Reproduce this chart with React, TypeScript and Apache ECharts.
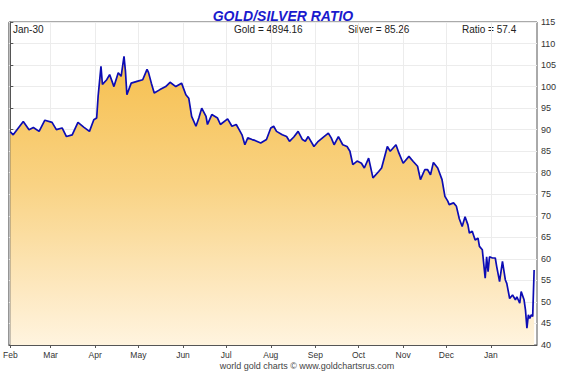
import React, { useEffect, useRef } from "react";
import * as echarts from "echarts";

// Days counted from Feb 1
const days = [
  0, 2, 9, 13, 16, 20, 24, 29, 32, 36, 39, 43, 47, 51, 55, 58, 60, 61, 63, 64,
  67, 69, 72, 75, 77, 79, 80, 81, 84, 88, 92, 95, 96, 98, 100, 104, 108, 111, 115, 119,
  122, 124, 126, 129, 131, 133, 136, 137, 140, 144, 146, 151, 154, 157, 159, 161, 163, 165, 168, 170,
  174, 176, 178, 181, 183, 185, 189, 192, 194, 197, 200, 203, 205, 207, 211, 214, 218, 221, 223, 225,
  228, 231, 234, 236, 238, 241, 244, 246, 249, 252, 256, 258, 262, 264, 268, 270, 273, 277, 280, 283,
  285, 288, 290, 292, 294, 297, 300, 302, 304, 305, 308, 310, 312, 314, 316, 318, 319, 321, 323, 325,
  326, 328, 330, 331, 332, 333, 335, 337, 338, 340, 342, 344, 345, 347, 349, 351, 352, 354, 355, 357,
  358, 359, 360, 361, 362, 363, 364,
];
const ratios = [
  89.5, 88.8, 91.9, 90.0, 90.5, 89.6, 92.2, 91.7, 90.0, 90.4, 88.4, 88.8, 91.7, 90.6, 89.6, 92.3, 92.7, 97.7, 104.7, 100.5,
  101.6, 102.8, 100.0, 103.2, 102.4, 107.0, 103.6, 98.1, 100.8, 101.2, 101.6, 104.0, 103.3, 100.8, 98.5, 99.3, 100.0, 101.0, 100.0, 100.8,
  98.1, 97.3, 93.1, 90.8, 92.7, 95.0, 93.1, 91.2, 93.5, 92.7, 91.2, 92.5, 90.8, 91.2, 90.0, 88.8, 86.5, 88.1, 87.7, 87.5,
  86.9, 87.3, 87.7, 90.4, 90.8, 89.6, 88.8, 88.4, 87.3, 88.3, 89.6, 87.7, 87.3, 88.4, 86.1, 87.3, 88.4, 89.2, 88.1, 86.5,
  88.4, 86.5, 86.1, 85.0, 81.9, 82.7, 82.2, 81.1, 83.4, 78.8, 80.3, 81.1, 86.1, 85.0, 86.5, 84.6, 82.2, 83.8, 82.6, 81.5,
  78.4, 80.7, 80.7, 79.5, 82.4, 81.1, 78.4, 74.5, 73.4, 72.6, 73.0, 72.2, 69.3, 67.5, 69.8, 67.9, 66.0, 66.4, 64.4, 64.8,
  62.9, 62.1, 55.5, 60.5, 57.0, 60.5, 60.2, 60.2, 58.2, 54.7, 59.4, 55.1, 54.3, 50.8, 51.6, 50.5, 51.2, 49.7, 52.4, 50.5,
  48.1, 43.9, 47.0, 46.2, 47.0, 46.6, 57.4,
];

const monthDays = [0, 28, 59, 89, 120, 150, 181, 212, 242, 273, 303, 334];
const monthNames = ["Feb", "Mar", "Apr", "May", "Jun", "Jul", "Aug", "Sep", "Oct", "Nov", "Dec", "Jan"];

const titleText = "GOLD/SILVER RATIO";
const dateText = "Jan-30";
const goldText = "Gold = 4894.16";
const silverText = "Silver = 85.26";
const ratioText = "Ratio = 57.4";
const footerText = "world gold charts \u00a9 www.goldchartsrus.com";

export default function App() {
  const ref = useRef<HTMLDivElement>(null);

  useEffect(() => {
    if (!ref.current) return;
    const chart = echarts.init(ref.current, undefined, { renderer: "svg" });
    const data = days.map((d, i) => [d, ratios[i]]);
    const font = "Arial, 'Liberation Sans', sans-serif";
    chart.setOption({
      animation: false,
      backgroundColor: "#ffffff",
      grid: {
        left: 8,
        right: 26,
        top: 22,
        bottom: 29,
        show: true,
        borderColor: "#555555",
        borderWidth: 1,
        backgroundColor: "transparent",
      },
      xAxis: {
        type: "value",
        min: -1,
        max: 366,
        axisLine: { show: true, lineStyle: { color: "#555555" } },
        axisTick: {
          show: true,
          length: 3,
          inside: false,
          customValues: monthDays,
          lineStyle: { color: "#555555" },
        },
        axisLabel: {
          customValues: monthDays,
          color: "#333333",
          fontSize: 8.5,
          fontFamily: font,
          margin: 5,
          formatter: (v: number) => {
            const i = monthDays.indexOf(Math.round(v));
            return i >= 0 ? monthNames[i] : "";
          },
        },
        splitLine: { show: true, lineStyle: { color: "#ececec", width: 1 } },
      },
      yAxis: {
        type: "value",
        position: "right",
        min: 40,
        max: 115,
        interval: 5,
        axisLine: { show: true, lineStyle: { color: "#555555" } },
        axisTick: { show: true, length: 3, lineStyle: { color: "#555555" } },
        axisLabel: { color: "#333333", fontSize: 9, fontFamily: font, margin: 4 },
        splitLine: { show: true, lineStyle: { color: "#ececec", width: 1 } },
      },
      series: [
        {
          type: "line",
          data,
          showSymbol: false,
          symbol: "none",
          lineStyle: { color: "#0c0cb4", width: 1.7 },
          areaStyle: {
            origin: "start",
            opacity: 1,
            color: new echarts.graphic.LinearGradient(0, 0, 0, 1, [
              { offset: 0, color: "#f6bf4e" },
              { offset: 0.45, color: "#f9d384" },
              { offset: 0.8, color: "#fde8bf" },
              { offset: 1, color: "#fff4df" },
            ]),
          },
        },
      ],
      graphic: [
        {
          type: "text",
          x: 283,
          y: 16,
          style: {
            text: titleText,
            fill: "#1a1acd",
            font: `italic bold 14px ${font}`,
            align: "center",
            verticalAlign: "middle",
          },
        },
        {
          type: "text",
          x: 13,
          y: 29,
          style: { text: dateText, fill: "#222222", font: `10px ${font}`, align: "left", verticalAlign: "middle" },
        },
        {
          type: "text",
          x: 234,
          y: 29,
          style: { text: goldText, fill: "#222222", font: `10px ${font}`, align: "left", verticalAlign: "middle" },
        },
        {
          type: "text",
          x: 348,
          y: 29,
          style: { text: silverText, fill: "#222222", font: `10px ${font}`, align: "left", verticalAlign: "middle" },
        },
        {
          type: "text",
          x: 462,
          y: 29,
          style: { text: ratioText, fill: "#222222", font: `10px ${font}`, align: "left", verticalAlign: "middle" },
        },
        {
          type: "text",
          x: 307,
          y: 366,
          style: { text: footerText, fill: "#444444", font: `9px ${font}`, align: "center", verticalAlign: "middle" },
        },
      ],
    });
    return () => chart.dispose();
  }, []);

  return (
    <div
      ref={ref}
      style={{ position: "fixed", left: 0, top: 0, width: 563, height: 374, background: "#ffffff" }}
    />
  );
}
